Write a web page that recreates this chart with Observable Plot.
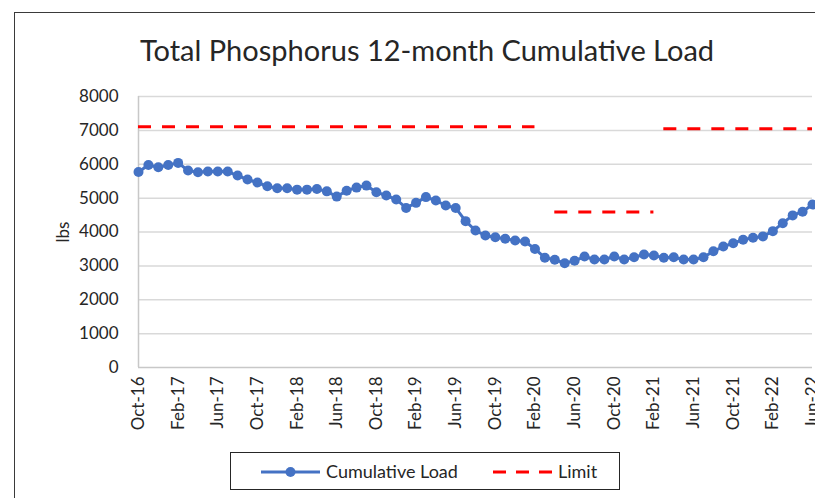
<!DOCTYPE html>
<html>
<head>
<meta charset="utf-8">
<script src="https://cdn.jsdelivr.net/npm/d3@7"></script>
<script src="https://cdn.jsdelivr.net/npm/@observablehq/plot@0.6"></script>
<style>
  html, body { margin: 0; padding: 0; background: #fff; }
  body { position: relative; width: 815px; height: 498px; overflow: hidden; font-family: Lato, "Noto Sans", sans-serif; }
  #frame { position: absolute; left: 14px; top: 12px; width: 900px; height: 600px; border-left: 1.5px solid #3a3a3a; border-top: 1.5px solid #3a3a3a; }
  #title { position: absolute; left: 0; top: 35px; width: 854px; text-align: center; font-size: 29px; line-height: 29px; color: #262626; white-space: nowrap; }
  #chart { position: absolute; left: 0; top: 0; }
  #legend { position: absolute; left: 230px; top: 452px; width: 388px; height: 36px; border: 1.5px solid #262626; background: #fff; }
  #legend svg { position: absolute; left: 0; top: 0; }
  .lg-text { position: absolute; top: 8px; font-size: 18px; line-height: 20px; color: #262626; white-space: nowrap; }
</style>
</head>
<body>
<div id="frame"></div>
<div id="chart"></div>
<div id="title">Total Phosphorus 12-month Cumulative Load</div>
<div id="legend">
  <svg width="388" height="36">
    <line x1="30" x2="89" y1="19" y2="19" stroke="#4472c4" stroke-width="3"></line>
    <circle cx="59.5" cy="19" r="5" fill="#4472c4"></circle>
    <line x1="262" x2="322" y1="19" y2="19" stroke="#ff0000" stroke-width="3" stroke-dasharray="13,10"></line>
  </svg>
  <span class="lg-text" style="left:95px">Cumulative Load</span>
  <span class="lg-text" style="left:327px">Limit</span>
</div>
<script>
const months = [
  "Oct-16","Nov-16","Dec-16",
  "Jan-17","Feb-17","Mar-17","Apr-17","May-17","Jun-17","Jul-17","Aug-17","Sep-17","Oct-17","Nov-17","Dec-17",
  "Jan-18","Feb-18","Mar-18","Apr-18","May-18","Jun-18","Jul-18","Aug-18","Sep-18","Oct-18","Nov-18","Dec-18",
  "Jan-19","Feb-19","Mar-19","Apr-19","May-19","Jun-19","Jul-19","Aug-19","Sep-19","Oct-19","Nov-19","Dec-19",
  "Jan-20","Feb-20","Mar-20","Apr-20","May-20","Jun-20","Jul-20","Aug-20","Sep-20","Oct-20","Nov-20","Dec-20",
  "Jan-21","Feb-21","Mar-21","Apr-21","May-21","Jun-21","Jul-21","Aug-21","Sep-21","Oct-21","Nov-21","Dec-21",
  "Jan-22","Feb-22","Mar-22","Apr-22","May-22","Jun-22"
];
const cumulativeLoad = [
  5770, 5980, 5910,
  5980, 6040, 5815, 5765, 5785, 5785, 5785, 5667, 5550, 5460, 5350, 5290,
  5290, 5250, 5250, 5270, 5200, 5045, 5220, 5310, 5370, 5175, 5075, 4960,
  4710, 4860, 5030, 4930, 4780, 4710, 4320, 4045, 3895, 3845, 3800, 3750,
  3720, 3500, 3240, 3180, 3080, 3150, 3275, 3190, 3190, 3275, 3190, 3255,
  3335, 3305, 3240, 3255, 3190, 3190, 3255, 3430, 3570, 3670, 3770, 3830,
  3870, 4025, 4260, 4490, 4600, 4810
];
const limitFrom = ["Oct-16", "Apr-20", "Mar-21"];
const limitTo = ["Feb-20", "Feb-21", "Jun-22"];
const limitValue = [7110, 4590, 7050];
const xTickLabels = ["Oct-16","Feb-17","Jun-17","Oct-17","Feb-18","Jun-18","Oct-18","Feb-19","Jun-19","Oct-19","Feb-20","Jun-20","Oct-20","Feb-21","Jun-21","Oct-21","Feb-22","Jun-22"];
const yTicks = [0, 1000, 2000, 3000, 4000, 5000, 6000, 7000, 8000];

const rows = months.map((m, i) => ({month: m, load: cumulativeLoad[i]}));
const limits = limitValue.map((v, i) => ({from: limitFrom[i], to: limitTo[i], value: v}));

const chart = Plot.plot({
  width: 815,
  height: 445,
  marginLeft: 138,
  marginRight: 3,
  marginTop: 96,
  marginBottom: 78,
  style: {fontFamily: "Lato, 'Noto Sans', sans-serif", fontSize: "17px", color: "#404040", background: "transparent", overflow: "visible"},
  x: {type: "point", domain: months, padding: 0},
  y: {domain: [0, 8000]},
  marks: [
    Plot.gridY(yTicks.slice(1), {stroke: "#d9d9d9", strokeOpacity: 1, strokeWidth: 1.5}),
    Plot.ruleY([0], {stroke: "#c8c8c8", strokeWidth: 1.5}),
    Plot.ruleX([months[0]], {stroke: "#c8c8c8", strokeWidth: 1.5}),
    Plot.ruleY(limits, {x1: "from", x2: "to", y: "value", stroke: "#ff0000", strokeWidth: 3, strokeDasharray: "13,11"}),
    Plot.line(rows, {x: "month", y: "load", stroke: "#4472c4", strokeWidth: 3}),
    Plot.dot(rows, {x: "month", y: "load", r: 5, fill: "#4472c4", stroke: "none"}),
    Plot.axisY(yTicks, {tickSize: 0, tickPadding: 20, tickFormat: d => String(d), label: "lbs", labelAnchor: "center", labelOffset: 82, labelArrow: "none", fill: "#262626"}),
    Plot.axisX(xTickLabels, {tickSize: 0, tickPadding: 9, tickRotate: -90, label: null, fill: "#262626"})
  ]
});
document.getElementById("chart").appendChild(chart);
</script>
</body>
</html>
